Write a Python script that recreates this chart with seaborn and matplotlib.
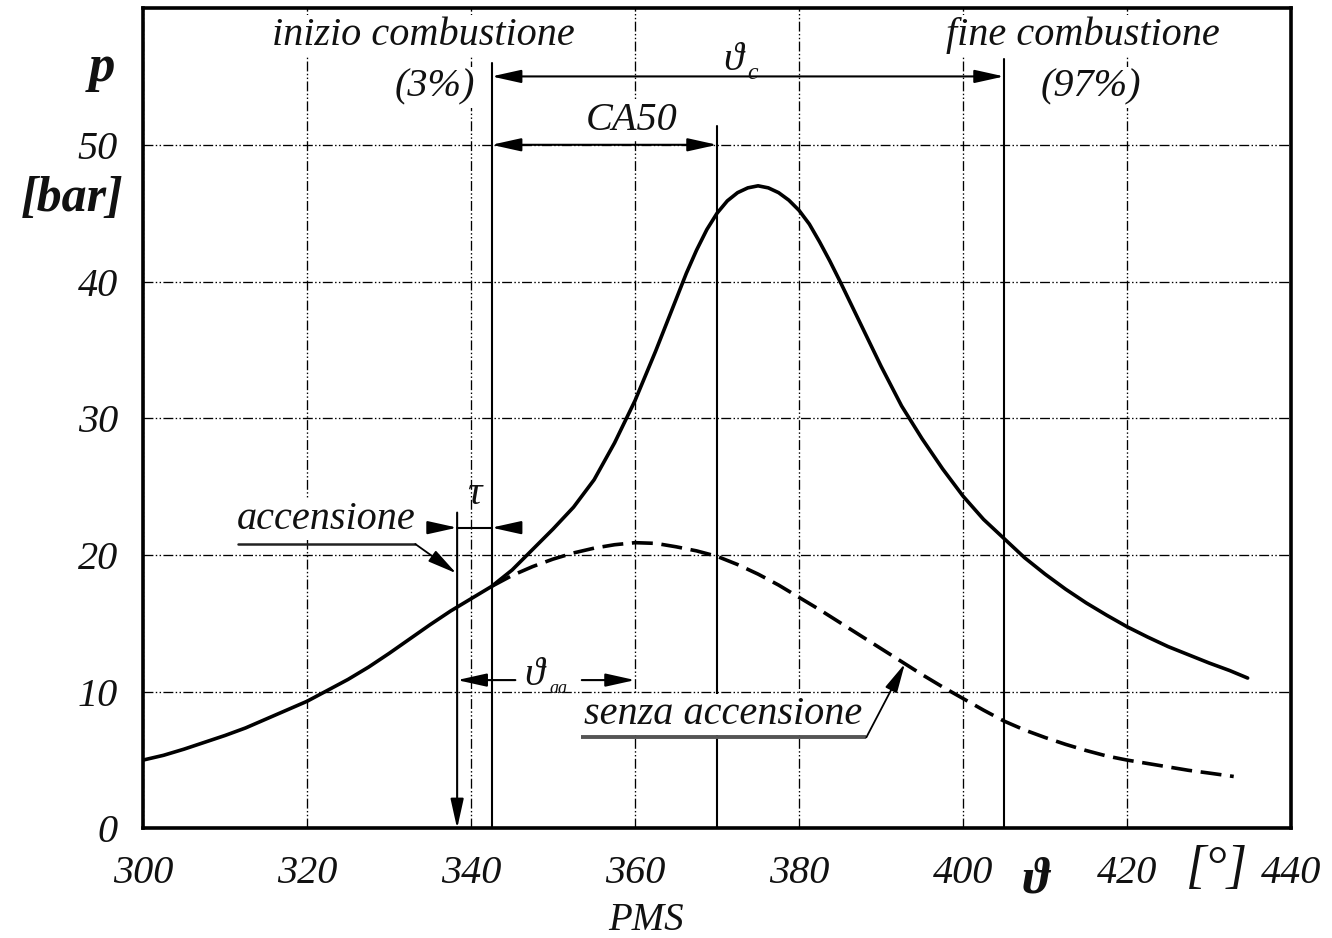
import matplotlib
matplotlib.use("Agg")
import matplotlib.pyplot as plt
import pandas as pd
import seaborn as sns

# Crank angle theta [deg] and cylinder pressure p [bar]
# compression stroke, common to both traces up to start of combustion
theta_compression = [300, 302.5, 305, 307.5, 310, 312.5, 315, 317.5, 320, 322.5,
                     325, 327.5, 330, 332.5, 335, 337.5, 340, 342.5]
p_compression = [5.0, 5.35, 5.8, 6.3, 6.8, 7.35, 8.0, 8.65, 9.3, 10.1,
                 10.9, 11.8, 12.8, 13.85, 14.9, 15.9, 16.8, 17.7]

# motored trace (no ignition)
theta_motored = [342.5, 345, 347.5, 350, 352.5, 355, 357.5, 360, 362.5, 365,
                 367.5, 370, 372.5, 375, 377.5, 380, 382.5, 385, 387.5, 390,
                 392.5, 395, 397.5, 400, 402.5, 405, 407.5, 410, 412.5, 415,
                 417.5, 420, 422.5, 425, 427.5, 430, 433]
p_motored = [17.7, 18.5, 19.15, 19.7, 20.15, 20.5, 20.75, 20.9, 20.85, 20.6,
             20.3, 19.9, 19.3, 18.6, 17.8, 16.9, 16.0, 15.05, 14.1, 13.15,
             12.2, 11.25, 10.35, 9.5, 8.65, 7.85, 7.2, 6.65, 6.15, 5.7,
             5.3, 5.0, 4.75, 4.5, 4.25, 4.05, 3.8]

# fired trace (with combustion)
theta_fired = [342.5, 345, 347.5, 350, 352.5, 355, 357.5, 360, 362.5, 365,
               366.25, 367.5, 368.75, 370, 371.25, 372.5, 373.75, 375, 376.25,
               377.5, 378.75, 380, 381.25, 382.5, 383.75, 385, 387.5, 390,
               392.5, 395, 397.5, 400, 402.5, 405, 407.5, 410, 412.5, 415,
               417.5, 420, 422.5, 425, 427.5, 430, 432.5, 434.7]
p_fired = [17.7, 18.9, 20.4, 21.9, 23.5, 25.5, 28.2, 31.3, 34.9, 38.7,
           40.6, 42.3, 43.8, 45.0, 45.9, 46.5, 46.85, 47.0, 46.85,
           46.5, 45.95, 45.2, 44.2, 42.9, 41.5, 40.0, 36.9, 33.8,
           30.9, 28.5, 26.3, 24.3, 22.6, 21.2, 19.8, 18.6, 17.5, 16.5,
           15.6, 14.75, 14.0, 13.3, 12.7, 12.1, 11.55, 11.0]

x_ticks = [300, 320, 340, 360, 380, 400, 420, 440]
y_ticks = [0, 10, 20, 30, 40, 50]

theta_ignition = 338.3   # spark
theta_soc = 342.5        # 3 % mass burned
theta_ca50 = 370.0       # 50 % mass burned
theta_eoc = 405.0        # 97 % mass burned

sns.set_theme(style="white")
plt.rcParams["font.family"] = ["Liberation Serif", "DejaVu Serif"]
plt.rcParams["font.style"] = "italic"
INK = "#111111"

fig = plt.figure(figsize=(13.32, 9.38), dpi=100)
ax = fig.add_axes([0.1074, 0.1168, 0.8619, 0.8746])

fired = pd.DataFrame({"theta": theta_compression + theta_fired[1:],
                      "p": p_compression + p_fired[1:]})
motored = pd.DataFrame({"theta": theta_motored, "p": p_motored})

sns.lineplot(data=fired, x="theta", y="p", ax=ax, color="black", lw=2.6, zorder=4,
             solid_joinstyle="round", solid_capstyle="round")
sns.lineplot(data=motored, x="theta", y="p", ax=ax, color="black", lw=2.6, zorder=4)
ax.lines[-1].set_linestyle((0, (5.8, 2.4)))

ax.set_xlim(300, 440)
ax.set_ylim(0, 60)
ax.set_xticks(x_ticks)
ax.set_yticks(y_ticks)
ax.set_xticklabels([str(v) for v in x_ticks])
ax.set_yticklabels([str(v) for v in y_ticks])
ax.set_xlabel("")
ax.set_ylabel("")
ax.tick_params(axis="both", length=0, labelsize=29, labelcolor=INK)
ax.tick_params(axis="x", pad=19)
ax.tick_params(axis="y", pad=18)
for lab in ax.get_xticklabels() + ax.get_yticklabels():
    lab.set_fontstyle("italic")

ax.grid(True, color="black", lw=0.95, linestyle=(0, (7.5, 1.8, 1.1, 1.8, 1.1, 1.8)))
ax.set_axisbelow(True)
for s in ax.spines.values():
    s.set_visible(True)
    s.set_color("black")
    s.set_linewidth(2.6)

# characteristic angles
ax.plot([theta_soc, theta_soc], [0, 56.0], color="black", lw=1.5, zorder=3)
ax.plot([theta_ca50, theta_ca50], [0, 51.4], color="black", lw=1.5, zorder=3)
ax.plot([theta_eoc, theta_eoc], [0, 56.3], color="black", lw=1.5, zorder=3)


def arrow(x0, y0, x1, y1, style="-|>", lw=1.5, color="black"):
    ax.annotate("", xy=(x1, y1), xytext=(x0, y0), zorder=3,
                arrowprops=dict(arrowstyle=f"{style},head_length=0.9,head_width=0.2",
                                lw=lw, color=color, shrinkA=0, shrinkB=0,
                                mutation_scale=20))


# spark: vertical arrow down to the axis
arrow(theta_ignition, 23.1, theta_ignition, 0)
# combustion duration and CA50
arrow(theta_soc, 55.0, theta_eoc, 55.0, style="<|-|>")
arrow(theta_soc, 50.0, theta_ca50, 50.0, style="<|-|>")
# ignition delay tau
ax.plot([theta_ignition, theta_soc], [22.0, 22.0], color="black", lw=1.5, zorder=3)
arrow(335.9, 22.0, theta_ignition, 22.0)
arrow(345.0, 22.0, theta_soc, 22.0)
# spark advance
arrow(345.4, 10.85, theta_ignition, 10.85)
arrow(353.5, 10.85, 360.0, 10.85)

# leaders
ax.plot([311.6, 333.2], [20.8, 20.8], color="#222222", lw=1.8, zorder=3)
arrow(333.2, 20.8, 338.2, 18.66, lw=1.3)
ax.plot([353.4, 388.2], [6.66, 6.66], color="#555555", lw=2.8, zorder=3,
        solid_capstyle="butt")
arrow(388.2, 6.66, 392.9, 12.05, lw=1.3)

box = dict(facecolor="white", edgecolor="none", pad=1.5)
tk = dict(ha="center", va="center", color=INK, zorder=6, fontstyle="italic")

ax.text(334.2, 58.0, "inizio combustione", fontsize=29, bbox=box, **tk)
ax.text(335.6, 54.2, "(3%)", fontsize=29, bbox=box, **tk)
ax.text(414.6, 58.0, "fine combustione", fontsize=29, bbox=box, **tk)
ax.text(415.6, 54.2, "(97%)", fontsize=29, bbox=box, **tk)
ax.text(359.6, 51.8, "CA50", fontsize=29, bbox=box, **tk)
ax.text(372.0, 56.2, "ϑ", fontsize=29, **tk)
ax.text(374.3, 55.2, "c", fontsize=17, **tk)
ax.text(340.4, 24.4, "τ", fontsize=29, **tk)
ax.text(322.3, 22.6, "accensione", fontsize=29, bbox=box, **tk)
ax.text(347.7, 11.2, "ϑ", fontsize=29, **tk)
ax.text(350.6, 10.2, "aa", fontsize=13, **tk)
ax.text(370.7, 8.3, "senza accensione", fontsize=29, bbox=box, **tk)

# axis captions
ok = dict(ha="center", va="center", color=INK, clip_on=False, zorder=6)
ax.text(295.0, 55.6, "p", fontsize=38, fontweight="bold", fontstyle="italic", **ok)
ax.text(291.3, 46.0, "[bar]", fontsize=36, fontweight="bold", fontstyle="italic", **ok)
ax.text(408.8, -3.8, "ϑ", fontsize=36, fontweight="bold", fontstyle="italic", **ok)
ax.text(431.0, -3.0, "[°]", fontsize=38, fontstyle="italic", **ok)
ax.text(361.3, -6.7, "PMS", fontsize=28, fontstyle="italic", **ok)

fig.savefig("out.png", dpi=100, facecolor="white")
